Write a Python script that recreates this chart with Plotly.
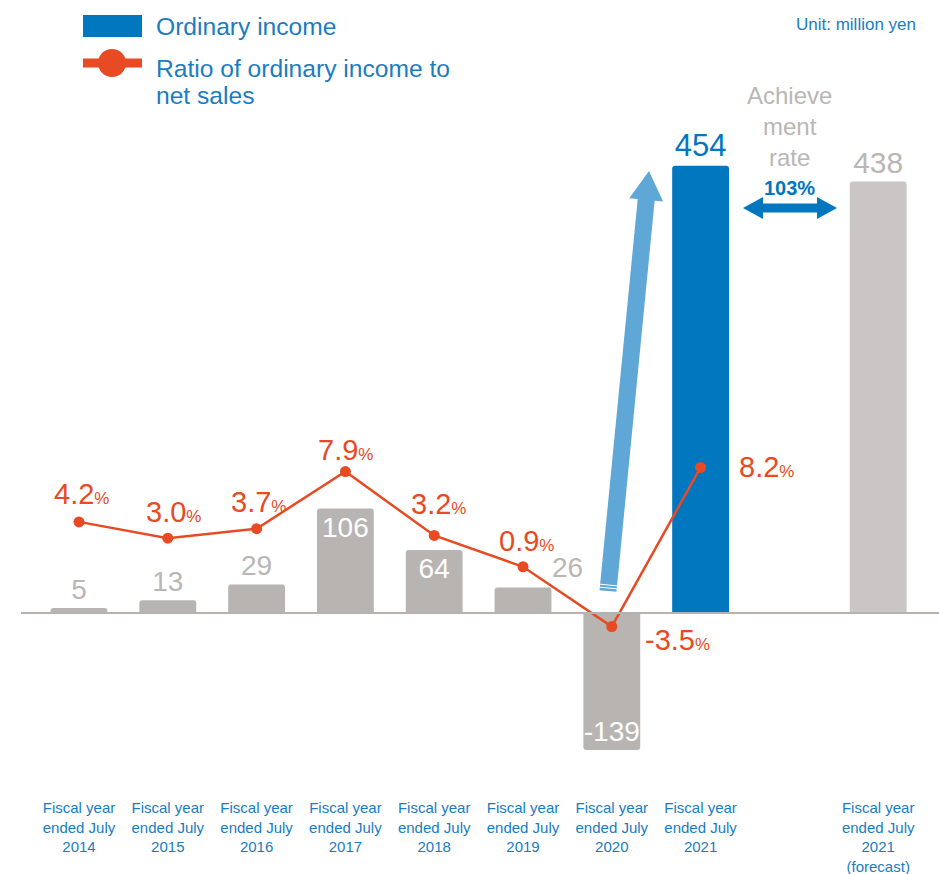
import numpy as np
import plotly.graph_objects as go

# ---- data -------------------------------------------------------------
year_labels = [
    "Fiscal year<br>ended July<br>2014",
    "Fiscal year<br>ended July<br>2015",
    "Fiscal year<br>ended July<br>2016",
    "Fiscal year<br>ended July<br>2017",
    "Fiscal year<br>ended July<br>2018",
    "Fiscal year<br>ended July<br>2019",
    "Fiscal year<br>ended July<br>2020",
    "Fiscal year<br>ended July<br>2021",
]
forecast_label = "Fiscal year<br>ended July<br>2021<br>(forecast)"

ordinary_income = [5, 13, 29, 106, 64, 26, -139, 454]   # million yen
forecast_income = 438
income_ratio = [4.2, 3.0, 3.7, 7.9, 3.2, 0.9, -3.5, 8.2]  # % of net sales
achievement_rate = 103

# ---- style ------------------------------------------------------------
FONT = "Arial, Liberation Sans, sans-serif"
GRAY_BAR = "#b8b4b2"
GRAY_FC = "#c9c6c5"
GRAY_TXT = "#bab6b4"
BLUE = "#0077bf"
LIGHT_BLUE = "#5ea7d7"
ORANGE = "#e84a23"
TXT_BLUE = "#1a7cc1"

W, H = 939, 874
MB = 77
PH = H - MB  # plot-area height in px

def X(px):
    return px / W

def Y(py):
    return (PH - py) / PH

n = len(ordinary_income)
x_actual = list(range(n))
x_forecast = n + 1          # one empty slot before the forecast bar

# bar label placement: outside above bar, or inside at the bar end
highlight = n - 1
label_pos = ["outside" if 0 <= v < 40 or i == highlight else "inside"
             for i, v in enumerate(ordinary_income)]
label_col = [BLUE if i == highlight else (GRAY_TXT if p == "outside" else "white")
             for i, p in enumerate(label_pos)]
label_size = [31 if i == highlight else 28 for i in range(n)]
shifted_label = 5  # this value label sits to the right of its bar
bar_text = ["" if i == shifted_label else str(v) for i, v in enumerate(ordinary_income)]
bar_colors = [BLUE if i == highlight else GRAY_BAR for i in range(n)]

fig = go.Figure()

fig.add_trace(go.Bar(
    x=x_actual, y=ordinary_income, width=0.64,
    marker=dict(color=bar_colors, line=dict(width=0)),
    text=bar_text, textposition=label_pos, insidetextanchor="end", textangle=0,
    textfont=dict(family=FONT, size=label_size, color=label_col),
    constraintext="none", cliponaxis=False, hoverinfo="skip",
))
fig.add_trace(go.Bar(
    x=[x_forecast], y=[forecast_income], width=0.64,
    marker=dict(color=GRAY_FC, line=dict(width=0)),
    text=[str(forecast_income)], textposition="outside", textangle=0,
    textfont=dict(family=FONT, size=30, color=GRAY_TXT),
    constraintext="none", cliponaxis=False, hoverinfo="skip",
))
fig.add_trace(go.Scatter(
    x=x_actual, y=income_ratio, yaxis="y2", mode="lines+markers",
    line=dict(color=ORANGE, width=2.5),
    marker=dict(color=ORANGE, size=11),
    cliponaxis=False, hoverinfo="skip",
))

annotations = []

# value label of the shifted bar
annotations.append(dict(
    x=shifted_label, y=ordinary_income[shifted_label], xref="x", yref="y",
    text=str(ordinary_income[shifted_label]), showarrow=False,
    xshift=44, yshift=20, yanchor="middle",
    font=dict(family=FONT, size=28, color=GRAY_TXT),
))

# ratio labels with a smaller percent sign
ratio_offsets = [(2, 28), (6, 26), (2, 27), (0, 22), (4, 31), (3, 26), (31, -13), (36, 0)]
for i, (v, (dx, dy)) in enumerate(zip(income_ratio, ratio_offsets)):
    side = i >= n - 2
    annotations.append(dict(
        x=i, y=v, xref="x", yref="y2",
        text=f"{v:.1f}<span style='font-size:17px'>%</span>",
        showarrow=False, xshift=dx, yshift=dy,
        xanchor="left" if side else "center", yanchor="middle",
        font=dict(family=FONT, size=29, color=ORANGE),
    ))

# legend text
annotations += [
    dict(x=X(154), y=Y(26), xref="paper", yref="paper", text="Ordinary income",
         showarrow=False, xanchor="left", yanchor="middle",
         font=dict(family=FONT, size=24.6, color=TXT_BLUE)),
    dict(x=X(154), y=Y(68), xref="paper", yref="paper", text="Ratio of ordinary income to",
         showarrow=False, xanchor="left", yanchor="middle",
         font=dict(family=FONT, size=24.6, color=TXT_BLUE)),
    dict(x=X(154), y=Y(96), xref="paper", yref="paper", text="net sales",
         showarrow=False, xanchor="left", yanchor="middle",
         font=dict(family=FONT, size=24.6, color=TXT_BLUE)),
    dict(x=X(918), y=Y(25), xref="paper", yref="paper", text="Unit: million yen",
         showarrow=False, xanchor="right", yanchor="middle",
         font=dict(family=FONT, size=17, color=TXT_BLUE)),
    dict(x=n, y=Y(126), xref="x", yref="paper", text="Achieve<br>ment<br>rate",
         showarrow=False, xanchor="center", yanchor="middle",
         font=dict(family=FONT, size=24, color=GRAY_TXT)),
    dict(x=n, y=Y(188), xref="x", yref="paper", text=f"<b>{achievement_rate}%</b>",
         showarrow=False, xanchor="center", yanchor="middle",
         font=dict(family=FONT, size=20, color=BLUE)),
]

shapes = []

# baseline
shapes.append(dict(type="line", xref="paper", yref="y", x0=X(21), x1=1, y0=0, y1=0,
                   line=dict(color="#b5b2b0", width=2), layer="above"))

# legend swatches
shapes.append(dict(type="rect", xref="paper", yref="paper",
                   x0=X(83), x1=X(142), y0=Y(37), y1=Y(15),
                   fillcolor=BLUE, line=dict(width=0)))
shapes.append(dict(type="line", xref="paper", yref="paper",
                   x0=X(83), x1=X(142), y0=Y(63), y1=Y(63),
                   line=dict(color=ORANGE, width=9)))
shapes.append(dict(type="circle", xref="paper", yref="paper",
                   x0=X(98), x1=X(126), y0=Y(77), y1=Y(49),
                   fillcolor=ORANGE, line=dict(width=0)))

def path(points):
    return "M " + " L ".join(f"{X(px):.5f},{Y(py):.5f}" for px, py in points) + " Z"

# upward growth arrow
base = np.array([608.0, 591.0])
tip = np.array([649.0, 171.0])
u = (tip - base) / np.linalg.norm(tip - base)
nrm = np.array([-u[1], u[0]])
head = tip - 29 * u
arrow_pts = [base - 8.5 * nrm, head - 8.5 * nrm, head - 17 * nrm, tip,
             head + 17 * nrm, head + 8.5 * nrm, base + 8.5 * nrm]
shapes.append(dict(type="path", xref="paper", yref="paper", path=path(arrow_pts),
                   fillcolor=LIGHT_BLUE, line=dict(width=0)))
for k in (3.0, 6.0):
    a = base + k * u - 9.5 * nrm
    b = base + k * u + 9.5 * nrm
    shapes.append(dict(type="line", xref="paper", yref="paper",
                       x0=X(a[0]), y0=Y(a[1]), x1=X(b[0]), y1=Y(b[1]),
                       line=dict(color="white", width=1)))

# double-headed arrow for the achievement rate
cy, xl, xr = 208.0, 743.0, 837.0
hl, hh, sh = 20.0, 11.0, 4.5
dbl = [(xl, cy), (xl + hl, cy - hh), (xl + hl, cy - sh), (xr - hl, cy - sh),
       (xr - hl, cy - hh), (xr, cy), (xr - hl, cy + hh), (xr - hl, cy + sh),
       (xl + hl, cy + sh), (xl + hl, cy + hh)]
shapes.append(dict(type="path", xref="paper", yref="paper", path=path(dbl),
                   fillcolor=BLUE, line=dict(width=0)))

PX_PER_UNIT = 0.985
ZERO_PX = 613
RATIO_PX = 13.6
RATIO_ZERO_PX = 579

fig.update_layout(
    width=W, height=H,
    margin=dict(l=0, r=0, t=0, b=MB),
    paper_bgcolor="white", plot_bgcolor="white",
    showlegend=False, barmode="overlay",
    font=dict(family=FONT),
    xaxis=dict(
        range=[-79 / 88.8, -79 / 88.8 + W / 88.8],
        tickvals=x_actual + [x_forecast],
        ticktext=year_labels + [forecast_label],
        tickfont=dict(family=FONT, size=15, color=TXT_BLUE),
        showgrid=False, zeroline=False, showline=False, ticks="",
    ),
    yaxis=dict(
        range=[-(PH - ZERO_PX) / PX_PER_UNIT, ZERO_PX / PX_PER_UNIT],
        visible=False, showgrid=False, zeroline=False,
    ),
    yaxis2=dict(
        range=[-(PH - RATIO_ZERO_PX) / RATIO_PX, RATIO_ZERO_PX / RATIO_PX],
        overlaying="y", visible=False, showgrid=False, zeroline=False,
    ),
    barcornerradius=3,
    annotations=annotations,
    shapes=shapes,
)

fig.write_html("out.html")
